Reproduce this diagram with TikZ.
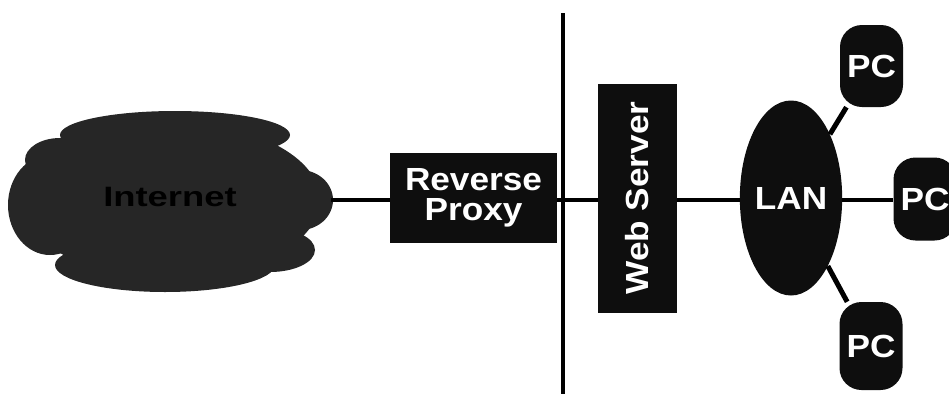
\documentclass[tikz,border=0pt]{standalone}
\usepackage{fontspec}
\setmainfont{Liberation Sans}
\newfontfamily\labelfont[FakeStretch=1.1]{Liberation Sans}
\newfontfamily\cloudfont[FakeStretch=1.3]{Liberation Sans}
\usetikzlibrary{shapes.geometric}
\definecolor{cloudgray}{HTML}{262626}
\definecolor{boxblack}{HTML}{0E0E0E}
\tikzset{
  wire/.style={line width=4pt, draw=black},
  labelstyle/.style={font=\labelfont\bfseries\fontsize{32}{30}\selectfont, text=white, inner sep=0pt},
  darkbox/.style={labelstyle, rectangle, fill=boxblack, align=center},
  pcbox/.style={labelstyle, rectangle, rounded corners=22pt, fill=boxblack, minimum width=63pt},
  lanshape/.style={labelstyle, ellipse, fill=boxblack, minimum width=102pt, minimum height=195pt},
  cloudpart/.style={fill=cloudgray, draw=none},
}
\begin{document}
\begin{tikzpicture}[x=1pt,y=-1pt]
\useasboundingbox (0,0) rectangle (949,394);
% cloud
\fill[cloudpart] (170,200) ellipse [x radius=150, y radius=78];
\fill[cloudpart] (50,205) ellipse [x radius=42, y radius=50];
\fill[cloudpart] (175,135) ellipse [x radius=115, y radius=24];
\fill[cloudpart] (60,160) ellipse [x radius=35, y radius=22];
\fill[cloudpart] (300,200) ellipse [x radius=33, y radius=30];
\fill[cloudpart] (270,250) ellipse [x radius=45, y radius=22];
\fill[cloudpart] (165,265) ellipse [x radius=110, y radius=27];
\node[font=\cloudfont\bfseries\fontsize{28}{28}\selectfont, text=black, inner sep=0pt] (inet) at (170,197) {Internet};
\coordinate (cloudedge) at (331,200);
% nodes
\node[darkbox, minimum width=167pt, minimum height=90pt] (proxy) at (473.5,198) {Reverse\\Proxy};
\node[darkbox, minimum width=229pt, minimum height=79pt, rotate=90] (web) at (637.5,198) {Web Server};
\node[lanshape] (lan) at (791,198) {LAN};
\node[pcbox, minimum height=82pt] (pc1) at (871.5,66) {PC};
\node[pcbox, minimum height=83pt] (pc2) at (925,199) {PC};
\node[pcbox, minimum height=88pt] (pc3) at (871,346) {PC};
% separator
\coordinate (vtop) at (563,13);
\coordinate (vbot) at (563,394);
\draw[wire] (vtop) -- (vbot);
% connectors
\draw[wire] (cloudedge) -- (proxy.west |- cloudedge);
\draw[wire] (proxy.east |- cloudedge) -- (web.north |- cloudedge);
\draw[wire] (web.south |- cloudedge) -- (lan.west |- cloudedge);
\draw[wire] (lan.east |- cloudedge) -- (pc2.west |- cloudedge);
\draw[wire, line width=5pt] (lan) -- (pc1);
\draw[wire, line width=5pt] (lan) -- (pc3);
\end{tikzpicture}
\end{document}
